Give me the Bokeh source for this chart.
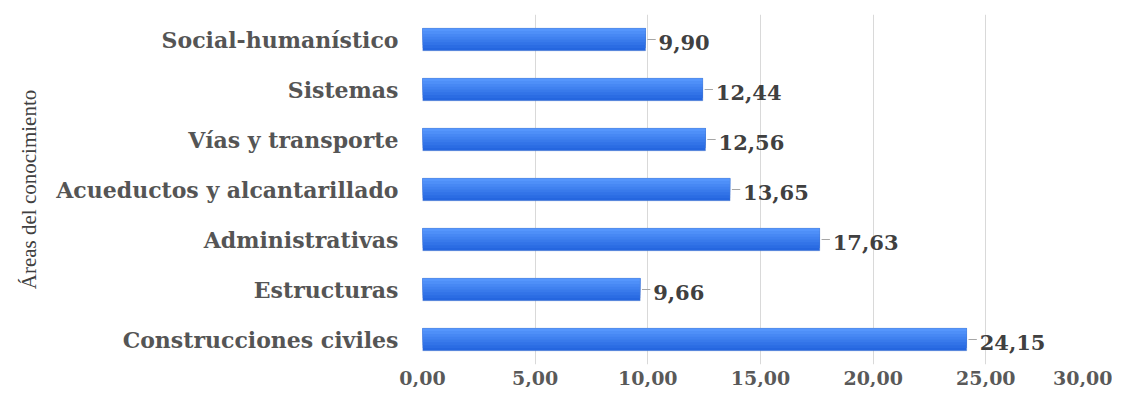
from bokeh.plotting import figure
from bokeh.models import ColumnDataSource, FactorRange, Range1d, CustomJSTickFormatter, FixedTicker
from bokeh.core.properties import value
from bokeh.transform import dodge
from bokeh.embed import file_html
from bokeh.resources import INLINE

categories = ["Construcciones civiles", "Estructuras", "Administrativas",
              "Acueductos y alcantarillado", "Vías y transporte", "Sistemas",
              "Social-humanístico"]
values = [24.15, 9.66, 17.63, 13.65, 12.56, 12.44, 9.90]
x_ticks = [0, 5, 10, 15, 20, 25, 30]
axis_title = "Áreas del conocimiento"

labels = [f"{v:.2f}".replace(".", ",") for v in values]
src = ColumnDataSource(dict(cat=categories, val=values, lab=labels,
                            lx0=[v + 0.08 for v in values],
                            lx1=[v + 0.45 for v in values]))

p = figure(width=1112, height=387, y_range=FactorRange(*categories, range_padding=0),
           x_range=Range1d(0, 30), output_backend="svg", toolbar_location=None,
           min_border_left=422, min_border_right=14, min_border_top=14,
           min_border_bottom=0)
p.outline_line_color = None
p.background_fill_color = "white"

# bar with vertical gradient (layers anchored at the top edge)
bar_h = 0.45
dark = (0x25, 0x66, 0xdf)
light = (0x55, 0x96, 0xfd)
n = 8
for k in range(n):
    t = k / (n - 1)
    col = "#%02x%02x%02x" % tuple(int(d + (l - d) * t) for d, l in zip(dark, light))
    hk = bar_h * (1 - k / n)
    off = bar_h / 2 - hk / 2
    p.hbar(y=dodge("cat", off, range=p.y_range), right="val", left=0, height=hk,
           source=src, fill_color=col, line_color=None)
p.hbar(y="cat", right="val", left=0, height=bar_h, source=src,
       fill_color=None, line_color="#5a7fc0", line_width=0.5, line_alpha=0.6)

p.segment(x0="lx0", x1="lx1", y0="cat", y1="cat", source=src,
          line_color="#a6a6a6", line_width=1)
p.text(x="val", y="cat", text="lab", source=src, x_offset=13, y_offset=3,
       text_font=value("DejaVu Serif"), text_font_style="bold",
       text_font_size="21px", text_color="#404040", text_baseline="middle")

p.xgrid.grid_line_color = "#d9d9d9"
p.ygrid.grid_line_color = None
p.xaxis.ticker = FixedTicker(ticks=x_ticks)
p.xaxis.formatter = CustomJSTickFormatter(code="return tick.toFixed(2).replace('.', ',');")
p.xaxis.axis_line_color = None
p.xaxis.major_tick_line_color = None
p.xaxis.minor_tick_line_color = None
p.xaxis.major_tick_out = 0
p.xaxis.major_label_standoff = 6
p.xaxis.major_label_text_font = "DejaVu Serif"
p.xaxis.major_label_text_font_style = "bold"
p.xaxis.major_label_text_font_size = "19px"
p.xaxis.major_label_text_color = "#595959"

p.yaxis.axis_line_color = None
p.yaxis.major_tick_line_color = None
p.yaxis.minor_tick_line_color = None
p.yaxis.major_tick_out = 0
p.yaxis.major_label_standoff = 24
p.yaxis.major_label_text_font = "DejaVu Serif"
p.yaxis.major_label_text_font_style = "bold"
p.yaxis.major_label_text_font_size = "22px"
p.yaxis.major_label_text_color = "#555555"
p.yaxis.axis_label = axis_title
p.yaxis.axis_label_standoff = 12
p.yaxis.axis_label_text_font = "Liberation Serif"
p.yaxis.axis_label_text_font_style = "normal"
p.yaxis.axis_label_text_font_size = "21px"
p.yaxis.axis_label_text_color = "#404040"

open("out.html", "w").write(file_html(p, INLINE))
